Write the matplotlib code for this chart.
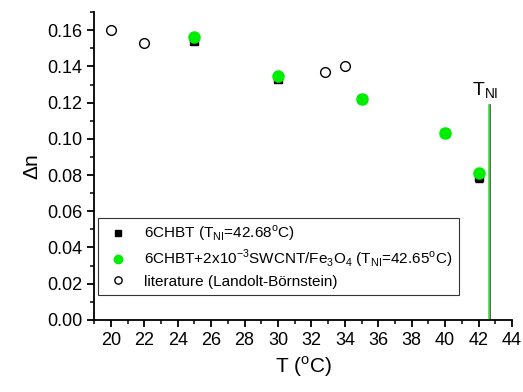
import matplotlib.pyplot as plt
import numpy as np
from matplotlib.ticker import MultipleLocator

plt.rcParams['font.family'] = ['Liberation Sans', 'DejaVu Sans']

# --- Data ---
t_pure = [25, 30, 35, 40, 42]
dn_pure = [0.154, 0.133, 0.122, 0.103, 0.079]
err_pure = [0.001, 0.001, 0.001, 0.001, 0.003]

t_doped = [25, 30, 35, 40, 42]
dn_doped = [0.156, 0.1345, 0.122, 0.103, 0.081]

t_lit = [20, 22, 32.8, 34]
dn_lit = [0.160, 0.153, 0.137, 0.140]

tni_pure = 42.68
tni_doped = 42.65
tni_height = 0.1185

fig = plt.figure(figsize=(5.23, 3.92), dpi=100)
ax = fig.add_axes([0.18, 0.184, 0.799, 0.785])

ax.errorbar(t_pure, dn_pure, yerr=err_pure, fmt='none', ecolor='black',
            capsize=3, elinewidth=0.8, zorder=2)
h1, = ax.plot(t_pure, dn_pure, 's', color='black', ms=6, zorder=3,
              label='6CHBT (T$_{\\mathregular{NI}}$=42.68$^{\\mathregular{o}}$C)')
h2, = ax.plot(t_doped, dn_doped, 'o', color='#00ee00', ms=8, zorder=4,
              label='6CHBT+2x10$^{\\mathregular{-3}}$SWCNT/Fe$_{\\mathregular{3}}$O$_{\\mathregular{4}}$ (T$_{\\mathregular{NI}}$=42.65$^{\\mathregular{o}}$C)')
h3, = ax.plot(t_lit, dn_lit, 'o', mfc='white', mec='black', ms=7, mew=1, zorder=3,
              label='literature (Landolt-Börnstein)')

ax.plot([tni_pure, tni_pure], [0, tni_height], color='#444444', lw=1.2)
ax.plot([tni_doped, tni_doped], [0, tni_height], color='#44dd44', lw=1.2)
ax.text(42.4, 0.121, 'T$_{\\mathregular{NI}}$', fontsize=14, ha='center', va='bottom')

ax.set_xlim(19, 44)
ax.set_ylim(0, 0.17)
ax.xaxis.set_major_locator(MultipleLocator(2))
ax.xaxis.set_minor_locator(MultipleLocator(1))
ax.yaxis.set_major_locator(MultipleLocator(0.02))
ax.yaxis.set_minor_locator(MultipleLocator(0.01))
ax.yaxis.set_major_formatter(plt.FormatStrFormatter('%.2f'))
ax.spines['top'].set_visible(False)
ax.spines['right'].set_visible(False)
ax.spines['left'].set_linewidth(1.3)
ax.spines['bottom'].set_linewidth(1.3)
ax.tick_params(which='major', direction='out', length=5, width=1.3, labelsize=13)
ax.tick_params(which='minor', direction='out', length=3, width=1.1)

ax.set_xlabel('T ($^{\\mathregular{o}}$C)', fontsize=15)
ax.set_ylabel('Δn', fontsize=15)

leg = ax.legend(handles=[h1, h2, h3], loc='lower left', bbox_to_anchor=(0.01, 0.081),
                borderaxespad=0, fontsize=11, markerscale=0.75, frameon=True,
                fancybox=False, edgecolor='black', handletextpad=0.8, handlelength=1.8,
                borderpad=0.4, labelspacing=0.3)
leg.get_frame().set_linewidth(0.8)

plt.savefig('out.png', dpi=100)
